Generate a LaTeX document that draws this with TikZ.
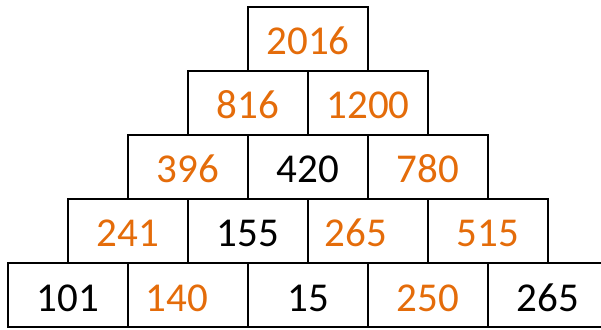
\documentclass[tikz,border=0pt]{standalone}
\usepackage{fontspec}
\setmainfont{Carlito}
\definecolor{numorange}{RGB}{228,108,10}
\tikzset{
  cell/.style={draw, line width=2pt, minimum width=120pt, minimum height=64pt,
    inner sep=0pt, text height=32pt, text depth=0pt, font=\fontsize{41}{44}\selectfont},
  given/.style={cell, text=black},
  found/.style={cell, text=numorange}
}
\begin{document}
\begin{tikzpicture}[x=1pt, y=1pt]
  \useasboundingbox (0,0) rectangle (601,329);
  % bottom row
  \foreach \n/\v/\s [count=\k from 0] in {a1/101/given, a2/140\hspace*{22pt}/found, a3/15/given, a4/250/found, a5/265/given}
    \node[\s] (\n) at (68+120*\k,34) {\v};
  % second row
  \foreach \n/\v/\s [count=\k from 0] in {b1/241/found, b2/155/given, b3/265\hspace*{24pt}/found, b4/515/found}
    \node[\s] (\n) at (128+120*\k,98) {\v};
  % third row
  \foreach \n/\v/\s [count=\k from 0] in {c1/396/found, c2/420/given, c3/780/found}
    \node[\s] (\n) at (188+120*\k,162) {\v};
  % fourth row
  \foreach \n/\v/\s [count=\k from 0] in {d1/816/found, d2/1200/found}
    \node[\s] (\n) at (248+120*\k,226) {\v};
  % top
  \node[found] (e1) at (308,290) {2016};
\end{tikzpicture}
\end{document}
